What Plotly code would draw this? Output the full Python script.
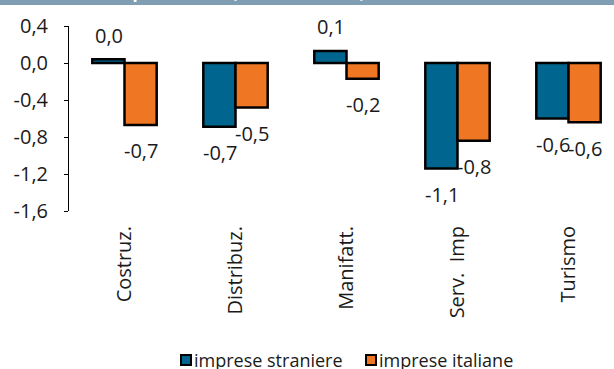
import plotly.graph_objects as go

# Sector categories and median values for the two groups of firms
categories = ["Costruz.", "Distribuz.", "Manifatt.", "Serv.\u00a0\u00a0Imp", "Turismo"]
foreign_vals = [0.04, -0.69, 0.13, -1.14, -0.60]
italian_vals = [-0.67, -0.48, -0.17, -0.84, -0.64]
series_names = ["imprese straniere", "imprese italiane"]
y_ticks = [0.4, 0.0, -0.4, -0.8, -1.2, -1.6]

BLUE = "#00668f"
ORANGE = "#ef7622"
FONT = "Open Sans"
TEXT = "#1a1a1a"

W, H = 614, 369
ML, MR, MT, MB = 69, 0, 26, 158
pw, ph = W - ML - MR, H - MT - MB


def fmt(v):
    return f"{v:.1f}".replace(".", ",")


def px_x(x):
    return (x - ML) / pw


def px_y(y):
    return (H - MB - y) / ph


fig = go.Figure()
for name, vals, color in [(series_names[0], foreign_vals, BLUE),
                          (series_names[1], italian_vals, ORANGE)]:
    fig.add_trace(go.Bar(
        x=categories, y=vals, name=name,
        marker=dict(color=color, line=dict(color="black", width=2.5)),
        showlegend=False,
    ))

# Value labels set a little away from the end of each bar
for vals, xs in [(foreign_vals, -16), (italian_vals, 16)]:
    for c, v in zip(categories, vals):
        fig.add_annotation(
            x=c, y=v, xref="x", yref="y", text=fmt(v), showarrow=False,
            xshift=xs, yshift=24 if v >= 0 else -26,
            font=dict(family=FONT, size=20, color=TEXT),
        )

# Header strip with its (clipped) title
shapes = [
    dict(type="rect", xref="paper", yref="paper",
         x0=px_x(0), x1=px_x(W), y0=px_y(5), y1=px_y(-20),
         fillcolor="#7f9db3", line=dict(width=0), layer="below"),
]
fig.add_annotation(
    x=px_x(15), y=px_y(5), xref="paper", yref="paper",
    text="<b>2013 su 2017, per settore (valori mediani)</b>",
    showarrow=False, xanchor="left", yanchor="bottom",
    font=dict(family=FONT, size=17, color="white"),
)

# Hand-made legend
legend_items = [(series_names[0], BLUE, 180), (series_names[1], ORANGE, 365)]
for name, color, px in legend_items:
    shapes.append(dict(type="rect", xref="paper", yref="paper",
                       x0=px_x(px + 1), x1=px_x(px + 11), y0=px_y(365), y1=px_y(355),
                       fillcolor=color, line=dict(color="black", width=2)))
    fig.add_annotation(x=px_x(px + 12), y=px_y(360), xref="paper", yref="paper",
                       text=name, showarrow=False, xanchor="left", yanchor="middle",
                       font=dict(family=FONT, size=18, color=TEXT))

x_range = [-0.5, -0.5 + pw / 111]

fig.update_layout(
    width=W, height=H,
    margin=dict(l=ML, r=MR, t=MT, b=MB, pad=0),
    paper_bgcolor="white", plot_bgcolor="white",
    bargap=0.42, bargroupgap=0,
    barmode="group",
    shapes=shapes,
    font=dict(family=FONT, size=18, color=TEXT),
    xaxis=dict(
        type="category", range=x_range, showline=False, ticks="",
        tickangle=-90, tickfont=dict(family=FONT, size=20, color=TEXT),
        ticklabelstandoff=10, showgrid=False, zeroline=False,
    ),
    xaxis2=dict(
        overlaying="x", anchor="free", position=(0 - (-1.6)) / 2.0,
        range=x_range, tickvals=[0.5, 1.5, 2.5, 3.5], ticks="outside", ticklen=5,
        tickcolor="black", showticklabels=False, showline=True, linecolor="black",
        linewidth=1, showgrid=False, zeroline=False,
    ),
    yaxis=dict(
        range=[-1.6, 0.4], tickvals=y_ticks, ticktext=[fmt(v) for v in y_ticks],
        ticks="outside", ticklen=4, tickcolor="black", showline=True,
        linecolor="black", linewidth=1, showgrid=False, zeroline=False,
        tickfont=dict(family=FONT, size=20, color=TEXT),
        ticklabelstandoff=12,
    ),
)

fig.write_html("out.html")
